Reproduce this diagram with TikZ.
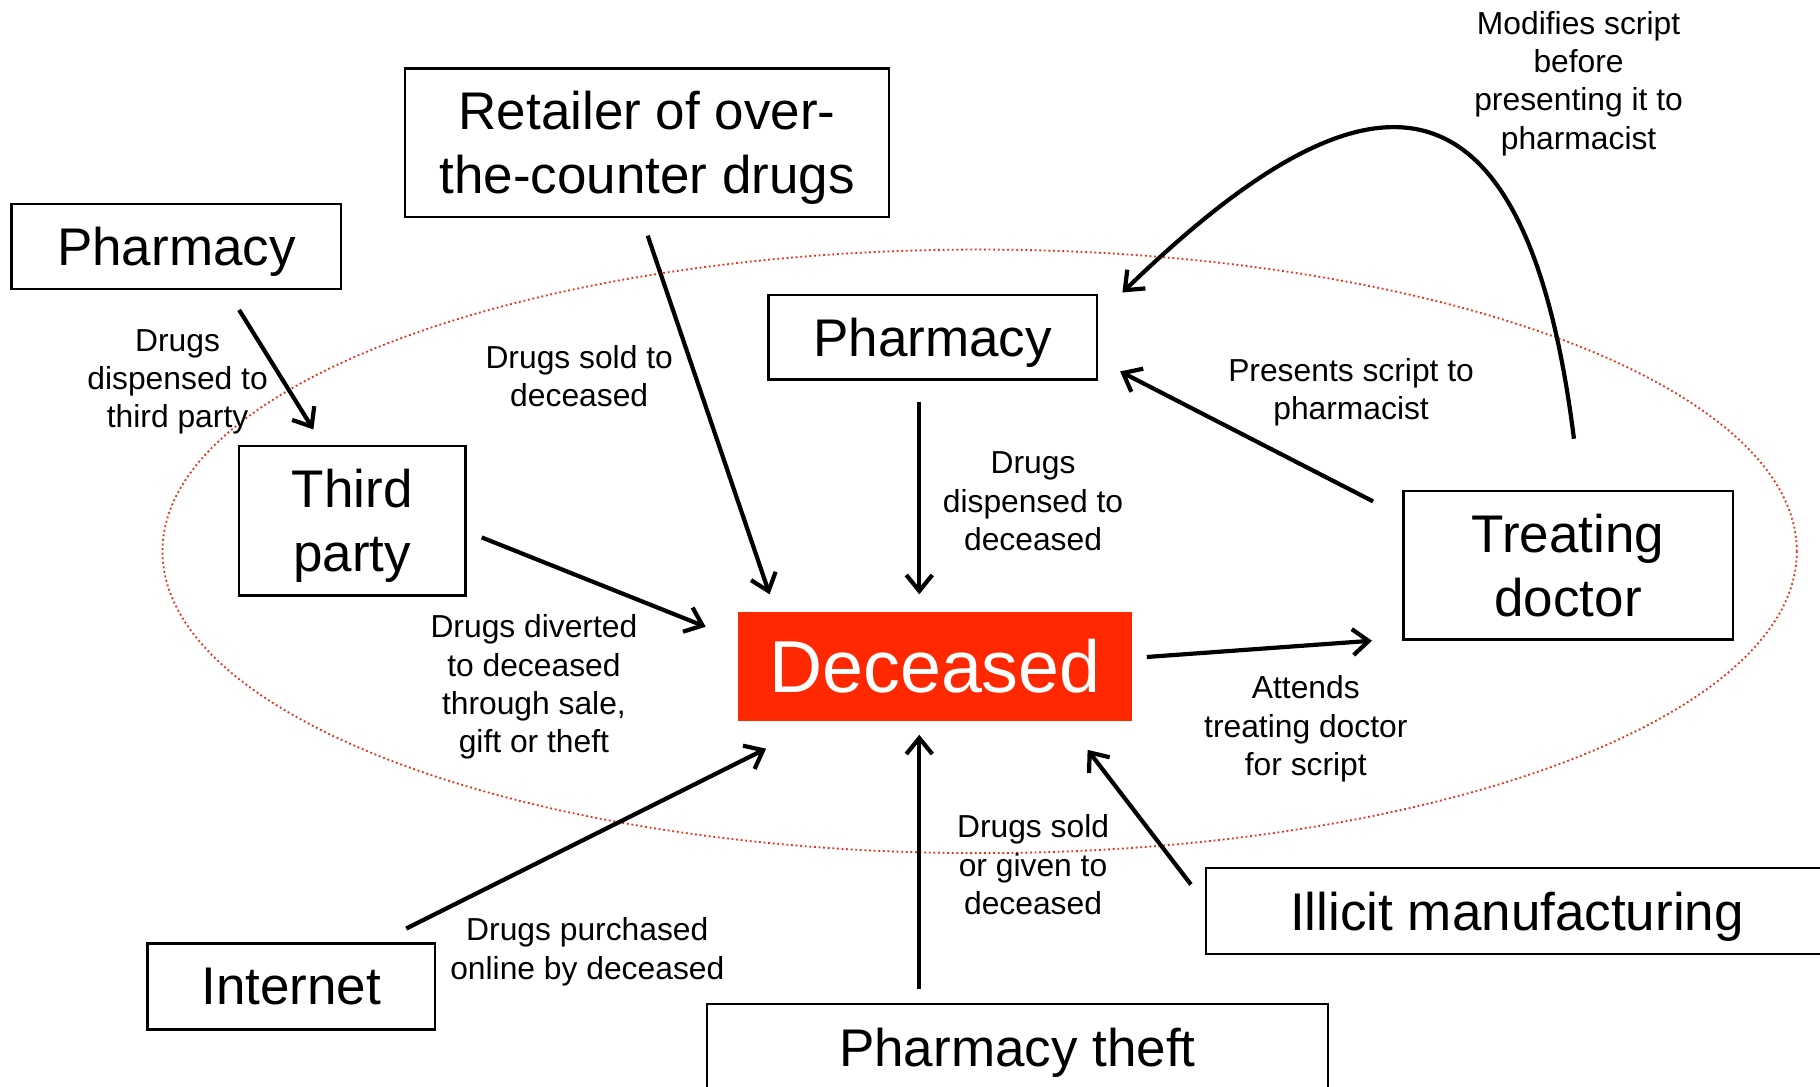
\documentclass[tikz,border=0pt]{standalone}
\usepackage{fontspec}
\setmainfont{Liberation Sans}
\usetikzlibrary{arrows.meta}
\definecolor{decred}{RGB}{255,40,0}
\definecolor{ellred}{RGB}{240,40,20}
\tikzset{
  box/.style={draw=black, line width=1.2pt, inner sep=0pt, align=center, text depth=0pt,
    font=\fontsize{26.5}{32}\selectfont},
  lbl/.style={align=center, inner sep=0pt, font=\fontsize{15.9}{19.2}\selectfont},
  conn/.style={line width=2.1pt, -{Straight Barb[length=8pt,width=13pt,line width=2.1pt]}},
}
\begin{document}
\begin{tikzpicture}[x=0.58036pt,y=-0.58036pt]
\useasboundingbox (0,0) rectangle (1568,936);
\fill[white] (0,0) rectangle (1568,936);
% ellipse
\draw[ellred, line width=0.9pt, dash pattern=on 0.9pt off 1.4pt] (844,475) ellipse [x radius=704, y radius=260];

% boxes
\node[box, minimum width=284*0.58036pt, minimum height=73*0.58036pt] (phTL) at (152,212.5) {Pharmacy};
\node[box, minimum width=417*0.58036pt, minimum height=128*0.58036pt] (retail) at (557.5,123) {Retailer of over-\\the-counter drugs};
\node[box, minimum width=283*0.58036pt, minimum height=73*0.58036pt] (phC) at (803.5,290.5) {Pharmacy};
\node[box, minimum width=195*0.58036pt, minimum height=129*0.58036pt] (third) at (303.5,448.5) {Third\\party};
\node[fill=decred, inner sep=0pt, text depth=0pt, minimum width=339*0.58036pt, minimum height=94*0.58036pt, text=white, font=\fontsize{36.8}{40}\selectfont] (dec) at (805.5,574) {Deceased};
\node[box, minimum width=284*0.58036pt, minimum height=128*0.58036pt] (doc) at (1351,487) {Treating\\doctor};
\node[box, minimum width=536*0.58036pt, minimum height=74*0.58036pt] (illicit) at (1307,785) {Illicit manufacturing};
\node[box, minimum width=248*0.58036pt, minimum height=74*0.58036pt] (internet) at (251,850) {Internet};
\node[box, minimum width=535*0.58036pt, minimum height=74*0.58036pt] (theft) at (876.5,902) {Pharmacy theft};

% connector end points
\coordinate (a1s) at (206,267);   \coordinate (a1e) at (270,370);
\coordinate (a2s) at (558,203);   \coordinate (a2e) at (663,512);
\coordinate (a3s) at (415,463);   \coordinate (a3e) at (608,540);
\coordinate (a4s) at (792,346);   \coordinate (a4e) at (792,512);
\coordinate (a5s) at (1183,432);  \coordinate (a5e) at (965,320);
\coordinate (a6s) at (1356,378);  \coordinate (a6e) at (967,252);
\coordinate (a7s) at (988,566);   \coordinate (a7e) at (1182,552);
\coordinate (a8s) at (350,800);   \coordinate (a8e) at (660,645);
\coordinate (a9s) at (792,852);   \coordinate (a9e) at (792,633);
\coordinate (a10s) at (1026,762); \coordinate (a10e) at (937,646);

\draw[conn] (a1s) -- (a1e);
\draw[conn] (a2s) -- (a2e);
\draw[conn] (a3s) -- (a3e);
\draw[conn] (a4s) -- (a4e);
\draw[conn] (a5s) -- (a5e);
\draw[conn] (a6s) .. controls (1310,10) and (1150,75) .. (a6e);
\draw[conn] (a7s) -- (a7e);
\draw[conn] (a8s) -- (a8e);
\draw[conn] (a9s) -- (a9e);
\draw[conn] (a10s) -- (a10e);

% labels
\node[lbl] (l1) at (153,329) {Drugs\\dispensed to\\third party};
\node[lbl] (l2) at (499,324) {Drugs sold to\\deceased};
\node[lbl] (l3) at (460,592) {Drugs diverted\\to deceased\\through sale,\\gift or theft};
\node[lbl] (l4) at (890,432) {Drugs\\dispensed to\\deceased};
\node[lbl] (l5) at (1164,338) {Presents script to\\pharmacist};
\node[lbl] (l6) at (1360,72) {Modifies script\\before\\presenting it to\\pharmacist};
\node[lbl] (l7) at (1125,628) {Attends\\treating doctor\\for script};
\node[lbl] (l8) at (506,820) {Drugs purchased\\online by deceased};
\node[lbl] (l9) at (890,745) {Drugs sold\\or given to\\deceased};
\end{tikzpicture}
\end{document}
